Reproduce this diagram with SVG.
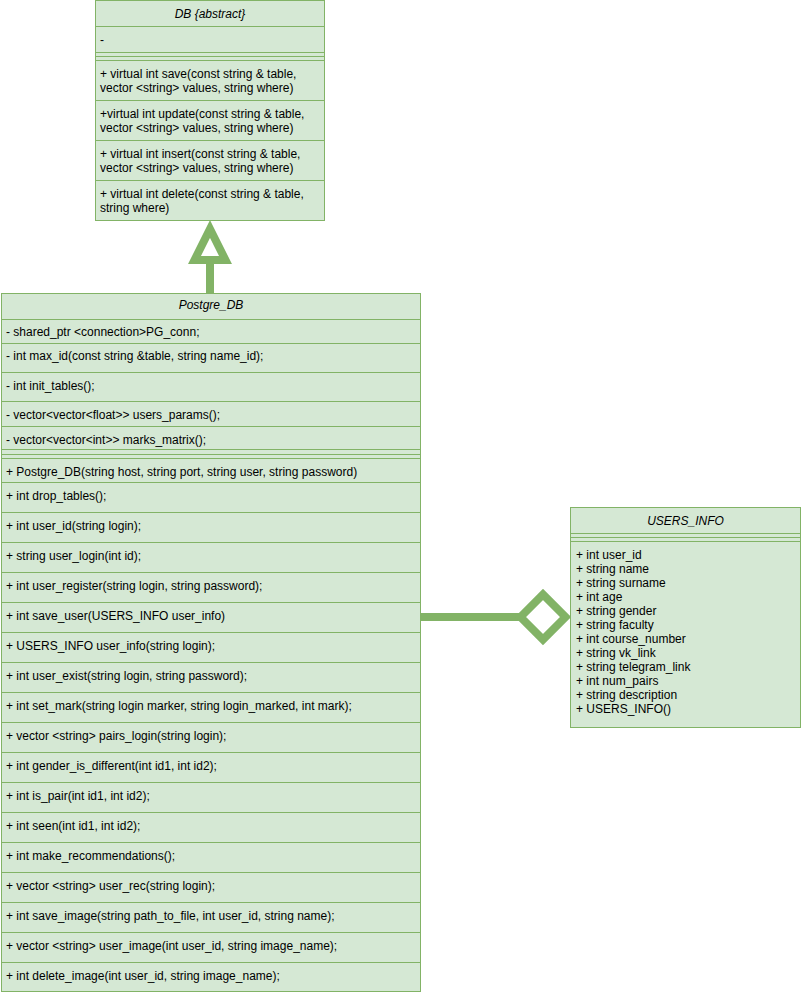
<svg xmlns="http://www.w3.org/2000/svg" width="802" height="996" viewBox="0 0 802 996">
  <style>
    .box { fill: #d5e8d4; stroke: #82b366; stroke-width: 1; }
    .row { fill: #d5e8d4; stroke: #82b366; stroke-width: 1; }
    .sep { stroke: #82b366; stroke-width: 1; }
    .t { font-family: "Liberation Sans", Arial, Helvetica, sans-serif; font-size: 12px; fill: #000; }
    .title { font-style: italic; text-anchor: middle; }
    .link { fill: none; stroke: #82b366; stroke-width: 8; }
    .head { fill: #ffffff; stroke: #82b366; stroke-width: 8; stroke-linejoin: miter; }
  </style>
  <rect width="802" height="996" fill="#ffffff"/>

  <!-- connectors -->
  <g id="connectors">
    <!-- generalization: Postgre_DB -> DB -->
    <line class="link" x1="210" y1="293" x2="210" y2="260"/>
    <polygon class="head" points="210,229 225.5,260 194.5,260"/>
    <!-- aggregation: USERS_INFO <>- Postgre_DB -->
    <line class="link" x1="421" y1="617" x2="521" y2="617"/>
    <polygon class="head" points="520.5,617 543,594.5 565.5,617 543,639.5"/>
  </g>

  <!-- DB {abstract} -->
  <g id="db">
    <rect class="box" x="95.5" y="0.5" width="229" height="220"/>
    <text class="t title" x="210" y="18">DB {abstract}</text>
    <rect class="row" x="95.5" y="26.5" width="229" height="26"/>
    <text class="t" x="100" y="44">-</text>
    <line class="sep" x1="95.5" y1="56.5" x2="324.5" y2="56.5"/>
    <rect class="row" x="95.5" y="60.5" width="229" height="40"/>
    <text class="t" x="100" y="78">+ virtual int save(const string &amp; table,</text>
    <text class="t" x="100" y="92">vector &lt;string&gt; values, string where)</text>
    <rect class="row" x="95.5" y="100.5" width="229" height="40"/>
    <text class="t" x="100" y="118">+virtual int update(const string &amp; table,</text>
    <text class="t" x="100" y="132">vector &lt;string&gt; values, string where)</text>
    <rect class="row" x="95.5" y="140.5" width="229" height="40"/>
    <text class="t" x="100" y="158">+ virtual int insert(const string &amp; table,</text>
    <text class="t" x="100" y="172">vector &lt;string&gt; values, string where)</text>
    <rect class="row" x="95.5" y="180.5" width="229" height="40"/>
    <text class="t" x="100" y="198">+ virtual int delete(const string &amp; table,</text>
    <text class="t" x="100" y="212">string where)</text>
  </g>

  <!-- Postgre_DB -->
  <g id="postgre-db">
    <rect class="box" x="1.5" y="293.5" width="419" height="698"/>
    <text class="t title" x="211" y="309">Postgre_DB</text>
    <rect class="row" x="1.5" y="319.5" width="419" height="24"/>
    <text class="t" x="6" y="336">- shared_ptr &lt;connection&gt;PG_conn;</text>
    <rect class="row" x="1.5" y="343.5" width="419" height="29"/>
    <text class="t" x="6" y="360">- int max_id(const string &amp;table, string name_id);</text>
    <rect class="row" x="1.5" y="372.5" width="419" height="29"/>
    <text class="t" x="6" y="390">- int init_tables();</text>
    <rect class="row" x="1.5" y="401.5" width="419" height="25"/>
    <text class="t" x="6" y="419">- vector&lt;vector&lt;float&gt;&gt; users_params();</text>
    <rect class="row" x="1.5" y="426.5" width="419" height="23"/>
    <text class="t" x="6" y="444">- vector&lt;vector&lt;int&gt;&gt; marks_matrix();</text>
    <line class="sep" x1="1.5" y1="454.5" x2="420.5" y2="454.5"/>
    <rect class="row" x="1.5" y="458.5" width="419" height="24"/>
    <text class="t" x="6" y="476">+ Postgre_DB(string host, string port, string user, string password)</text>
    <rect class="row" x="1.5" y="482.5" width="419" height="30"/>
    <text class="t" x="6" y="500">+ int drop_tables();</text>
    <rect class="row" x="1.5" y="512.5" width="419" height="30"/>
    <text class="t" x="6" y="530">+ int user_id(string login);</text>
    <rect class="row" x="1.5" y="542.5" width="419" height="30"/>
    <text class="t" x="6" y="560">+ string user_login(int id);</text>
    <rect class="row" x="1.5" y="572.5" width="419" height="30"/>
    <text class="t" x="6" y="590">+ int user_register(string login, string password);</text>
    <rect class="row" x="1.5" y="602.5" width="419" height="30"/>
    <text class="t" x="6" y="620">+ int save_user(USERS_INFO user_info)</text>
    <rect class="row" x="1.5" y="632.5" width="419" height="30"/>
    <text class="t" x="6" y="650">+ USERS_INFO user_info(string login);</text>
    <rect class="row" x="1.5" y="662.5" width="419" height="30"/>
    <text class="t" x="6" y="680">+ int user_exist(string login, string password);</text>
    <rect class="row" x="1.5" y="692.5" width="419" height="30"/>
    <text class="t" x="6" y="710">+ int set_mark(string login marker, string login_marked, int mark);</text>
    <rect class="row" x="1.5" y="722.5" width="419" height="30"/>
    <text class="t" x="6" y="740">+ vector &lt;string&gt; pairs_login(string login);</text>
    <rect class="row" x="1.5" y="752.5" width="419" height="30"/>
    <text class="t" x="6" y="770">+ int gender_is_different(int id1, int id2);</text>
    <rect class="row" x="1.5" y="782.5" width="419" height="30"/>
    <text class="t" x="6" y="800">+ int is_pair(int id1, int id2);</text>
    <rect class="row" x="1.5" y="812.5" width="419" height="30"/>
    <text class="t" x="6" y="830">+ int seen(int id1, int id2);</text>
    <rect class="row" x="1.5" y="842.5" width="419" height="30"/>
    <text class="t" x="6" y="860">+ int make_recommendations();</text>
    <rect class="row" x="1.5" y="872.5" width="419" height="30"/>
    <text class="t" x="6" y="890">+ vector &lt;string&gt; user_rec(string login);</text>
    <rect class="row" x="1.5" y="902.5" width="419" height="30"/>
    <text class="t" x="6" y="920">+ int save_image(string path_to_file, int user_id, string name);</text>
    <rect class="row" x="1.5" y="932.5" width="419" height="30"/>
    <text class="t" x="6" y="950">+ vector &lt;string&gt; user_image(int user_id, string image_name);</text>
    <rect class="row" x="1.5" y="962.5" width="419" height="29"/>
    <text class="t" x="6" y="980">+ int delete_image(int user_id, string image_name);</text>
  </g>

  <!-- USERS_INFO -->
  <g id="users-info">
    <rect class="box" x="570.5" y="507.5" width="230" height="220"/>
    <text class="t title" x="685.5" y="525">USERS_INFO</text>
    <line class="sep" x1="570.5" y1="533.5" x2="800.5" y2="533.5"/>
    <line class="sep" x1="570.5" y1="537.5" x2="800.5" y2="537.5"/>
    <line class="sep" x1="570.5" y1="541.5" x2="800.5" y2="541.5"/>
    <text class="t" x="576" y="559">+ int user_id</text>
    <text class="t" x="576" y="573">+ string name</text>
    <text class="t" x="576" y="587">+ string surname</text>
    <text class="t" x="576" y="601">+ int age</text>
    <text class="t" x="576" y="615">+ string gender</text>
    <text class="t" x="576" y="629">+ string faculty</text>
    <text class="t" x="576" y="643">+ int course_number</text>
    <text class="t" x="576" y="657">+ string vk_link</text>
    <text class="t" x="576" y="671">+ string telegram_link</text>
    <text class="t" x="576" y="685">+ int num_pairs</text>
    <text class="t" x="576" y="699">+ string description</text>
    <text class="t" x="576" y="713">+ USERS_INFO()</text>
  </g>
</svg>
